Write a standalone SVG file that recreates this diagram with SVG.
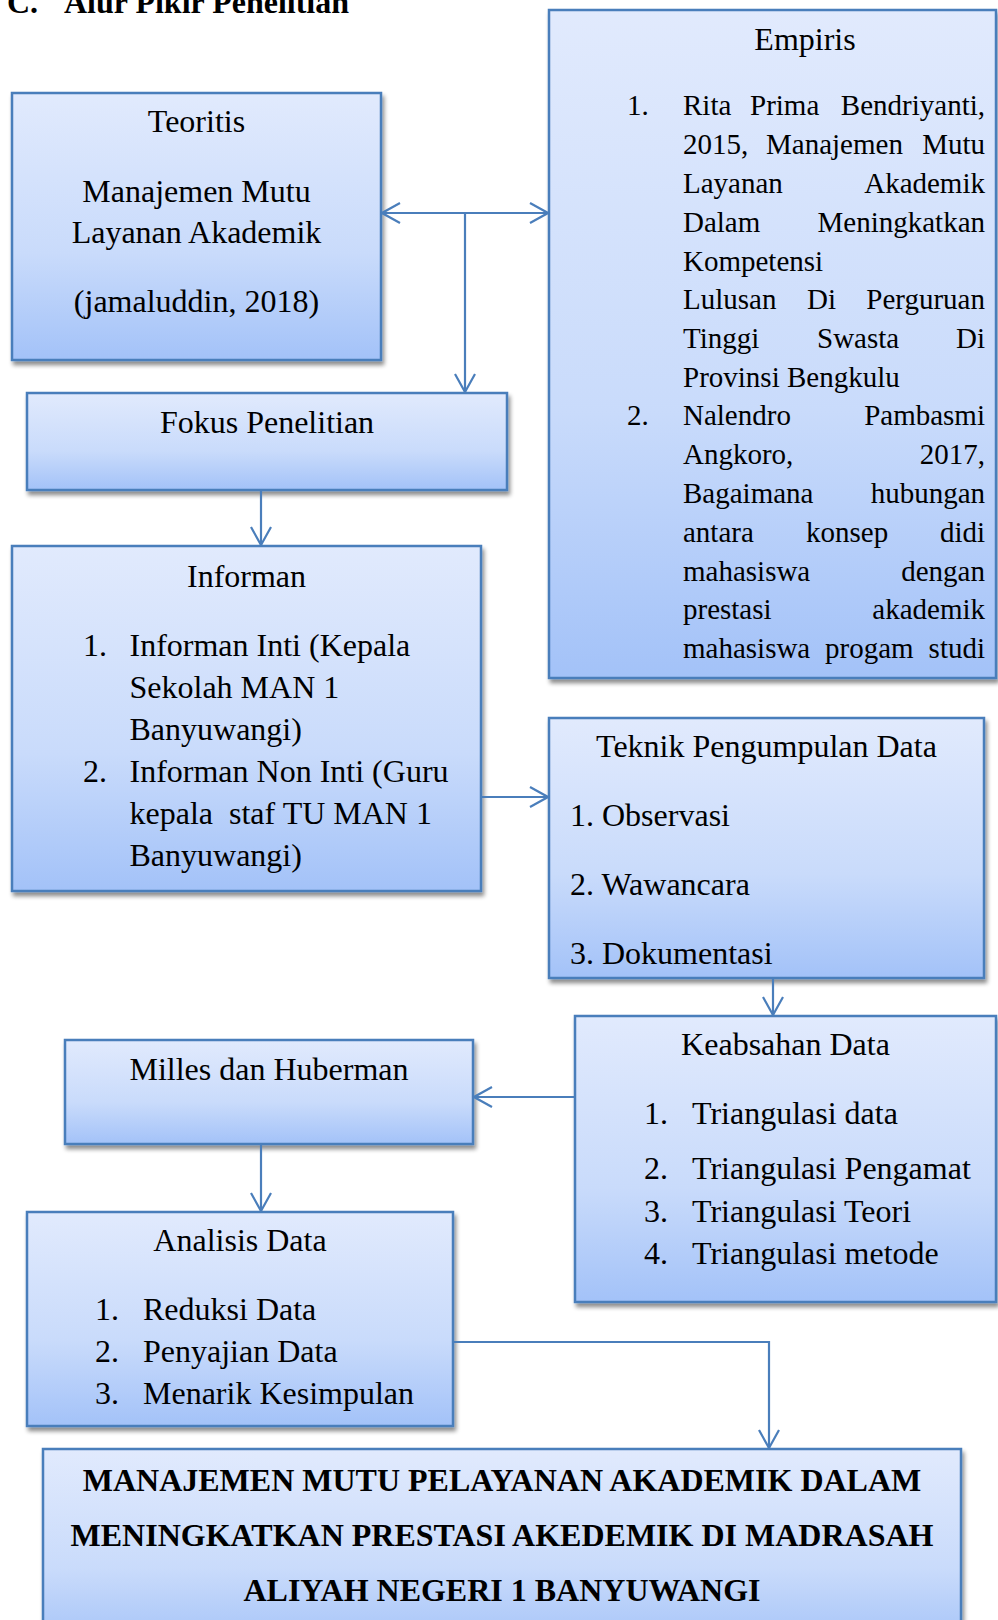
<svg xmlns="http://www.w3.org/2000/svg" width="998" height="1620" viewBox="0 0 998 1620">
<style>
text{font-family:"Liberation Serif","Times New Roman",serif;fill:#000;}
.t{font-size:32px;}
.c{text-anchor:middle;}
.e{font-size:29px;}
.r{text-anchor:end;}
.b{font-weight:bold;}
.box{fill:url(#g);stroke:#4a7ebb;stroke-width:2.5;filter:url(#sh);}
.ln{fill:none;stroke:#4a7ebb;stroke-width:2.2;}
</style>
<defs>
<linearGradient id="g" x1="0" y1="0" x2="0" y2="1">
<stop offset="0" stop-color="#e1eafd"/>
<stop offset="0.6" stop-color="#c9dbfb"/>
<stop offset="1" stop-color="#a3c2f8"/>
</linearGradient>
<filter id="sh" x="-5%" y="-5%" width="115%" height="115%">
<feGaussianBlur in="SourceAlpha" stdDeviation="2"/>
<feOffset dx="2" dy="4" result="o"/>
<feComponentTransfer><feFuncA type="linear" slope="0.45"/></feComponentTransfer>
<feMerge><feMergeNode/><feMergeNode in="SourceGraphic"/></feMerge>
</filter>
<marker id="arr" viewBox="-20 -12 22 24" refX="0" refY="0" markerWidth="22" markerHeight="24" markerUnits="userSpaceOnUse" orient="auto-start-reverse">
<path d="M-18,-10 L0,0 L-18,10" fill="none" stroke="#4a7ebb" stroke-width="2.2"/>
</marker>
</defs>
<rect width="998" height="1620" fill="#fff"/>
<text class="t b" y="13"><tspan x="7">C.</tspan><tspan x="64">Alur Pikir Penelitian</tspan></text>

<g id="teoritis">
<rect class="box" x="12" y="93" width="369" height="267"/>
<text class="t c" x="196.5" y="132">Teoritis</text>
<text class="t c" x="196.5" y="202">Manajemen Mutu</text>
<text class="t c" x="196.5" y="243">Layanan Akademik</text>
<text class="t c" x="196.5" y="312">(jamaluddin, 2018)</text>
</g>

<g id="empiris">
<rect class="box" x="549" y="10" width="447" height="668"/>
<text class="t c" x="805" y="50">Empiris</text>
<text class="e" x="627" y="115">1.</text>
<text class="e" x="683" y="115">Rita</text><text class="e" x="750" y="115">Prima</text><text class="e r" x="985" y="115">Bendriyanti,</text>
<text class="e" x="683" y="154">2015,</text><text class="e" x="766" y="154">Manajemen</text><text class="e r" x="985" y="154">Mutu</text>
<text class="e" x="683" y="193">Layanan</text><text class="e r" x="985" y="193">Akademik</text>
<text class="e" x="683" y="232">Dalam</text><text class="e r" x="985" y="232">Meningkatkan</text>
<text class="e" x="683" y="271">Kompetensi</text>
<text class="e" x="683" y="309">Lulusan</text><text class="e" x="807" y="309">Di</text><text class="e r" x="985" y="309">Perguruan</text>
<text class="e" x="683" y="348">Tinggi</text><text class="e" x="817" y="348">Swasta</text><text class="e r" x="985" y="348">Di</text>
<text class="e" x="683" y="387">Provinsi Bengkulu</text>
<text class="e" x="627" y="425">2.</text>
<text class="e" x="683" y="425">Nalendro</text><text class="e r" x="985" y="425">Pambasmi</text>
<text class="e" x="683" y="464">Angkoro,</text><text class="e r" x="985" y="464">2017,</text>
<text class="e" x="683" y="503">Bagaimana</text><text class="e r" x="985" y="503">hubungan</text>
<text class="e" x="683" y="542">antara</text><text class="e" x="806" y="542">konsep</text><text class="e r" x="985" y="542">didi</text>
<text class="e" x="683" y="581">mahasiswa</text><text class="e r" x="985" y="581">dengan</text>
<text class="e" x="683" y="619">prestasi</text><text class="e r" x="985" y="619">akademik</text>
<text class="e" x="683" y="658">mahasiswa</text><text class="e" x="825" y="658">progam</text><text class="e r" x="985" y="658">studi</text>
</g>

<g id="fokus">
<rect class="box" x="27" y="393" width="480" height="97"/>
<text class="t c" x="267" y="433">Fokus Penelitian</text>
</g>

<g id="informan">
<rect class="box" x="12" y="546" width="469" height="345"/>
<text class="t c" x="246.5" y="587">Informan</text>
<text class="t" x="83" y="656">1.</text>
<text class="t" x="129.5" y="656">Informan Inti (Kepala</text>
<text class="t" x="129.5" y="698">Sekolah MAN 1</text>
<text class="t" x="129.5" y="740">Banyuwangi)</text>
<text class="t" x="83" y="782">2.</text>
<text class="t" x="129.5" y="782">Informan Non Inti (Guru</text>
<text class="t" x="129.5" y="824" xml:space="preserve">kepala  staf TU MAN 1</text>
<text class="t" x="129.5" y="866">Banyuwangi)</text>
</g>

<g id="teknik">
<rect class="box" x="549" y="718" width="435" height="260"/>
<text class="t c" x="766.5" y="757">Teknik Pengumpulan Data</text>
<text class="t" x="570" y="826">1. Observasi</text>
<text class="t" x="570" y="895">2. Wawancara</text>
<text class="t" x="570" y="964">3. Dokumentasi</text>
</g>

<g id="keabsahan">
<rect class="box" x="575" y="1016" width="421" height="286"/>
<text class="t c" x="785.5" y="1055">Keabsahan Data</text>
<text class="t" x="644" y="1124">1.</text><text class="t" x="692" y="1124">Triangulasi data</text>
<text class="t" x="644" y="1179">2.</text><text class="t" x="692" y="1179">Triangulasi Pengamat</text>
<text class="t" x="644" y="1222">3.</text><text class="t" x="692" y="1222">Triangulasi Teori</text>
<text class="t" x="644" y="1264">4.</text><text class="t" x="692" y="1264">Triangulasi metode</text>
</g>

<g id="milles">
<rect class="box" x="65" y="1040" width="408" height="104"/>
<text class="t c" x="269" y="1080">Milles dan Huberman</text>
</g>

<g id="analisis">
<rect class="box" x="27" y="1212" width="426" height="214"/>
<text class="t c" x="240" y="1251">Analisis Data</text>
<text class="t" x="95" y="1320">1.</text><text class="t" x="143" y="1320">Reduksi Data</text>
<text class="t" x="95" y="1362">2.</text><text class="t" x="143" y="1362">Penyajian Data</text>
<text class="t" x="95" y="1404">3.</text><text class="t" x="143" y="1404">Menarik Kesimpulan</text>
</g>

<g id="hasil">
<rect class="box" x="43" y="1449" width="918" height="200"/>
<text class="t c b" x="502" y="1491">MANAJEMEN MUTU PELAYANAN AKADEMIK DALAM</text>
<text class="t c b" x="502" y="1546">MENINGKATKAN PRESTASI AKEDEMIK DI MADRASAH</text>
<text class="t c b" x="502" y="1601">ALIYAH NEGERI 1 BANYUWANGI</text>
</g>

<g id="connectors">
<path class="ln" d="M382,213 L548,213" marker-start="url(#arr)" marker-end="url(#arr)"/>
<path class="ln" d="M465,213 L465,392" marker-end="url(#arr)"/>
<path class="ln" d="M261,491 L261,545" marker-end="url(#arr)"/>
<path class="ln" d="M482,797 L548,797" marker-end="url(#arr)"/>
<path class="ln" d="M773,979 L773,1015" marker-end="url(#arr)"/>
<path class="ln" d="M574,1097 L474,1097" marker-end="url(#arr)"/>
<path class="ln" d="M261,1145 L261,1211" marker-end="url(#arr)"/>
<path class="ln" d="M454,1342 L769,1342 L769,1448" marker-end="url(#arr)"/>
</g>
</svg>
